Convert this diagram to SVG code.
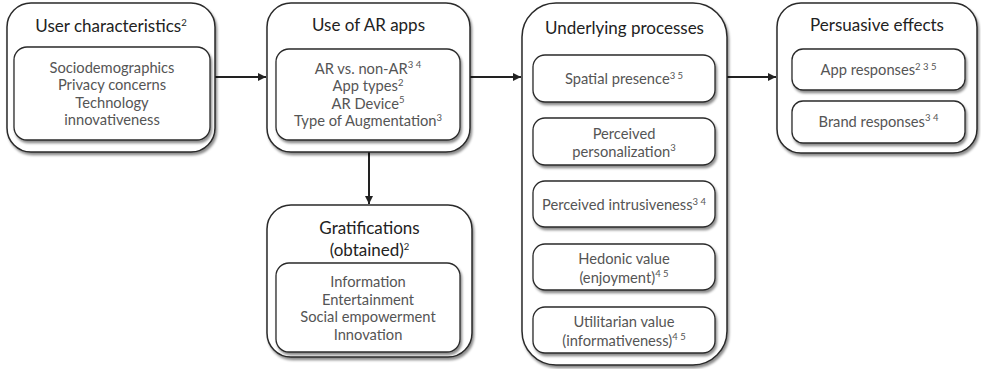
<svg xmlns="http://www.w3.org/2000/svg" width="981" height="369" viewBox="0 0 981 369">
<defs>
<filter id="sh" x="-10%" y="-10%" width="125%" height="130%">
<feDropShadow dx="1.5" dy="2.5" stdDeviation="1.3" flood-color="#000" flood-opacity="0.45"/>
</filter>
<marker id="arr" viewBox="0 0 10 10" refX="10" refY="5" markerWidth="4" markerHeight="4" orient="auto" markerUnits="strokeWidth">
<path d="M0,0 L10,5 L0,10 z" fill="#222"/>
</marker>
</defs>
<style>
.outer{fill:#fff;stroke:#2a2a2a;stroke-width:1.5;filter:url(#sh)}
.inner{fill:#fff;stroke:#2a2a2a;stroke-width:1.3;filter:url(#sh)}
.title{font-family:Lato,"Open Sans","Liberation Sans",sans-serif;font-size:17px;fill:#222;text-anchor:middle}
.item{font-family:Lato,"Open Sans","Liberation Sans",sans-serif;font-size:14.7px;fill:#555;text-anchor:middle}
.sup{font-size:9.5px}
.con{stroke:#222;stroke-width:2;fill:none;marker-end:url(#arr)}
</style>
<rect width="981" height="369" fill="#fff"/>
<g id="connectors">
<line class="con" x1="215" y1="77" x2="266" y2="77"/>
<line class="con" x1="470" y1="77" x2="521" y2="77"/>
<line class="con" x1="727" y1="77" x2="776" y2="77"/>
<line class="con" x1="369" y1="152" x2="369" y2="204"/>
</g>
<g id="user-characteristics">
<rect class="outer" x="7" y="3" width="208" height="149" rx="24"/>
<text class="title" x="111" y="31.5">User characteristics<tspan class="sup" dy="-6">2</tspan></text>
<rect class="inner" x="14" y="47" width="196" height="93" rx="13"/>
<text class="item" x="112" y="72.5">Sociodemographics</text>
<text class="item" x="112" y="90">Privacy concerns</text>
<text class="item" x="112" y="107.5">Technology</text>
<text class="item" x="112" y="125">innovativeness</text>
</g>
<g id="use-of-ar-apps">
<rect class="outer" x="267" y="3" width="203" height="149" rx="24"/>
<text class="title" x="368.5" y="31">Use of AR apps</text>
<rect class="inner" x="276" y="49" width="184" height="91" rx="13"/>
<text class="item" x="368" y="73.5">AR vs. non-AR<tspan class="sup" dy="-5.5">3 4</tspan></text>
<text class="item" x="368" y="91">App types<tspan class="sup" dy="-5.5">2</tspan></text>
<text class="item" x="368" y="108.5">AR Device<tspan class="sup" dy="-5.5">5</tspan></text>
<text class="item" x="368" y="126">Type of Augmentation<tspan class="sup" dy="-5.5">3</tspan></text>
</g>
<g id="underlying-processes">
<rect class="outer" x="522" y="3" width="205" height="362" rx="34"/>
<text class="title" x="624.5" y="33.5">Underlying processes</text>
<rect class="inner" x="533" y="55" width="182" height="47" rx="12"/>
<text class="item" x="624" y="84">Spatial presence<tspan class="sup" dy="-5.5">3 5</tspan></text>
<rect class="inner" x="533" y="118" width="182" height="47" rx="12"/>
<text class="item" x="624" y="138.5">Perceived</text>
<text class="item" x="624" y="156.5">personalization<tspan class="sup" dy="-5.5">3</tspan></text>
<rect class="inner" x="533" y="181" width="182" height="46" rx="12"/>
<text class="item" x="624" y="210">Perceived intrusiveness<tspan class="sup" dy="-5.5">3 4</tspan></text>
<rect class="inner" x="533" y="244" width="182" height="46" rx="12"/>
<text class="item" x="624" y="264">Hedonic value</text>
<text class="item" x="624" y="282.5">(enjoyment)<tspan class="sup" dy="-5.5">4 5</tspan></text>
<rect class="inner" x="533" y="307" width="182" height="46" rx="12"/>
<text class="item" x="624" y="327">Utilitarian value</text>
<text class="item" x="624" y="345.5">(informativeness)<tspan class="sup" dy="-5.5">4 5</tspan></text>
</g>
<g id="persuasive-effects">
<rect class="outer" x="777" y="3" width="200" height="150" rx="24"/>
<text class="title" x="877" y="31">Persuasive effects</text>
<rect class="inner" x="792" y="49" width="173" height="41" rx="11"/>
<text class="item" x="878.5" y="75">App responses<tspan class="sup" dy="-5.5">2 3 5</tspan></text>
<rect class="inner" x="792" y="101" width="173" height="42" rx="11"/>
<text class="item" x="878.5" y="126.5">Brand responses<tspan class="sup" dy="-5.5">3 4</tspan></text>
</g>
<g id="gratifications">
<rect class="outer" x="267" y="205" width="205" height="152" rx="24"/>
<text class="title" x="369.5" y="233.5">Gratifications</text>
<text class="title" x="369.5" y="255.5">(obtained)<tspan class="sup" dy="-6">2</tspan></text>
<rect class="inner" x="276" y="263" width="184" height="89" rx="13"/>
<text class="item" x="368" y="287">Information</text>
<text class="item" x="368" y="304.5">Entertainment</text>
<text class="item" x="368" y="322">Social empowerment</text>
<text class="item" x="368" y="339.5">Innovation</text>
</g>
</svg>
